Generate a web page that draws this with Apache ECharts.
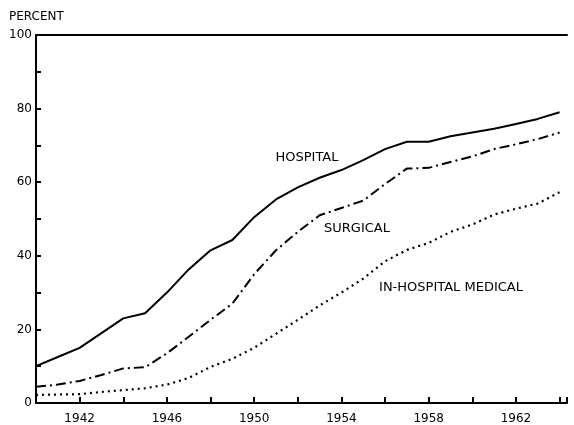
<!DOCTYPE html>
<html>
<head>
<meta charset="utf-8">
<script src="https://cdn.jsdelivr.net/npm/echarts@6/dist/echarts.min.js"></script>
<style>
  html, body { margin: 0; padding: 0; background: #fff; }
  #chart { width: 574px; height: 425px; }
</style>
</head>
<body>
<div id="chart"></div>
<script>
// 数据
const years = [1940, 1941, 1942, 1943, 1944, 1945, 1946, 1947, 1948, 1949, 1950, 1951, 1952,
  1953, 1954, 1955, 1956, 1957, 1958, 1959, 1960, 1961, 1962, 1963, 1964]
const hospital = [10, 12.5, 15, 19, 23, 24.4, 30, 36.3, 41.5, 44.3, 50.5, 55.3, 58.6,
  61.2, 63.3, 66, 69, 71, 71, 72.5, 73.5, 74.5, 75.8, 77.2, 79]
const surgical = [4.4, 5, 6, 7.6, 9.4, 9.7, 13.5, 18, 22.6, 27, 35, 41.5, 46.5,
  51, 53, 55, 59.5, 63.7, 63.9, 65.5, 67, 69, 70.3, 71.7, 73.5]
const medical = [2.2, 2.3, 2.4, 3, 3.5, 4, 5, 6.8, 9.8, 12, 15, 18.8, 22.6,
  26.5, 30, 33.8, 38.5, 41.6, 43.5, 46.5, 48.5, 51.2, 52.8, 54.2, 57.3]
const yTicks = [0, 20, 40, 60, 80, 100]
const xTickLabels = [1942, 1946, 1950, 1954, 1958, 1962]
const seriesNames = ['HOSPITAL', 'SURGICAL', 'IN-HOSPITAL MEDICAL']

const FONT = 'DejaVu Sans'
const pairs = vals => years.map((y, i) => [y, vals[i]])

const chart = echarts.init(document.getElementById('chart'))

const lineSeries = (name, vals, type, width) => ({
  name,
  type: 'line',
  data: pairs(vals),
  symbol: 'none',
  smooth: false,
  lineStyle: { color: '#000', width, type, cap: 'butt' },
  silent: true
})

const option = {
  animation: false,
  backgroundColor: '#fff',
  grid: { left: 36, right: 7, top: 35, bottom: 22 },
  xAxis: [
    {
      type: 'value',
      min: 1940,
      max: 1964.34,
      interval: 2,
      axisLine: { lineStyle: { color: '#000', width: 2 } },
      axisTick: { inside: true, length: 6, lineStyle: { color: '#000', width: 2 } },
      splitLine: { show: false },
      axisLabel: {
        color: '#000',
        fontFamily: FONT,
        fontSize: 12,
        margin: 10,
        formatter: v => (xTickLabels.includes(v) ? String(v) : '')
      }
    },
    {
      // 顶部边框线
      type: 'value',
      position: 'top',
      min: 1940,
      max: 1964.34,
      axisLine: { show: true, lineStyle: { color: '#000', width: 2 } },
      axisTick: { show: false },
      axisLabel: { show: false },
      splitLine: { show: false }
    }
  ],
  yAxis: {
    type: 'value',
    min: 0,
    max: 100,
    interval: 10,
    axisLine: { show: true, lineStyle: { color: '#000', width: 2 } },
    axisTick: { show: true, inside: true, length: 5, lineStyle: { color: '#000', width: 2 } },
    splitLine: { show: false },
    axisLabel: {
      color: '#000',
      fontFamily: FONT,
      fontSize: 12,
      margin: 4,
      formatter: v => (yTicks.includes(v) ? String(v) : '')
    }
  },
  series: [
    lineSeries(seriesNames[0], hospital, 'solid', 2),
    lineSeries(seriesNames[1], surgical, [10, 4, 2, 4], 2),
    lineSeries(seriesNames[2], medical, [2, 4], 2.2)
  ],
  graphic: [
    { type: 'text', left: 9, top: 11, style: { text: 'PERCENT', font: '12px ' + FONT, fill: '#000' } },
    { type: 'text', x: 307, y: 158, style: { text: seriesNames[0], font: '13px ' + FONT, fill: '#000', align: 'center', verticalAlign: 'middle' } },
    { type: 'text', x: 357, y: 229, style: { text: seriesNames[1], font: '13px ' + FONT, fill: '#000', align: 'center', verticalAlign: 'middle' } },
    { type: 'text', x: 451, y: 288, style: { text: seriesNames[2], font: '13px ' + FONT, fill: '#000', align: 'center', verticalAlign: 'middle' } }
  ]
}

chart.setOption(option)
</script>
</body>
</html>
